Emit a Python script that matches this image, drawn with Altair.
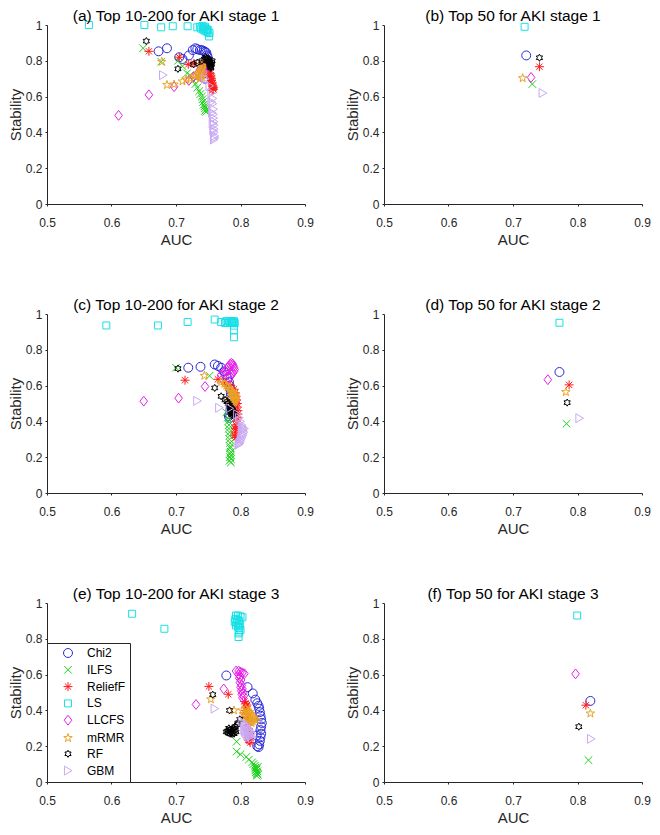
import altair as alt
import pandas as pd

METHODS = ["Chi2", "ILFS", "ReliefF", "LS", "LLCFS", "mRMR", "RF", "GBM"]
COLORS = ["#2a2ad8", "#1fd11f", "#ff1a1a", "#19e0e6", "#e81ee8", "#eaa224", "#000000", "#c9a8f2"]
X_TICKS = [0.5, 0.6, 0.7, 0.8, 0.9]
Y_TICKS = [0, 0.2, 0.4, 0.6, 0.8, 1.0]

# ---------- (a) Top 10-200 for AKI stage 1 ----------
a_chi2 = [(0.673, 0.853), (0.686, 0.87), (0.705, 0.82), (0.71, 0.81), (0.72, 0.83), (0.726, 0.86), (0.73, 0.87), (0.733, 0.865), (0.737, 0.86), (0.74, 0.86), (0.743, 0.855), (0.745, 0.85), (0.747, 0.845), (0.748, 0.83), (0.749, 0.82), (0.75, 0.80), (0.75, 0.78), (0.748, 0.76), (0.747, 0.73), (0.745, 0.70)]
a_ilfs = [(0.649, 0.87), (0.677, 0.795), (0.703, 0.80), (0.71, 0.77), (0.717, 0.73), (0.722, 0.72), (0.727, 0.69), (0.73, 0.67), (0.733, 0.65), (0.736, 0.63), (0.738, 0.615), (0.74, 0.60), (0.741, 0.585), (0.742, 0.57), (0.743, 0.555), (0.744, 0.545), (0.745, 0.535), (0.746, 0.525), (0.745, 0.52), (0.747, 0.515)]
a_relieff = [(0.658, 0.853), (0.705, 0.82), (0.719, 0.78), (0.728, 0.785), (0.745, 0.79), (0.75, 0.77), (0.752, 0.75), (0.753, 0.73), (0.754, 0.72), (0.754, 0.71), (0.755, 0.70), (0.755, 0.69), (0.756, 0.68), (0.756, 0.67), (0.757, 0.66), (0.757, 0.655), (0.758, 0.65), (0.757, 0.645), (0.758, 0.64), (0.756, 0.635)]
a_ls = [(0.565, 1.0), (0.651, 1.0), (0.677, 0.987), (0.695, 0.993), (0.718, 0.993), (0.733, 0.987), (0.737, 0.99), (0.739, 0.98), (0.741, 0.995), (0.742, 0.975), (0.743, 0.985), (0.744, 0.97), (0.745, 0.99), (0.746, 0.98), (0.747, 0.965), (0.748, 0.975), (0.749, 0.96), (0.75, 0.97), (0.752, 0.955), (0.751, 0.936)]
a_llcfs = [(0.611, 0.495), (0.658, 0.61), (0.697, 0.655), (0.72, 0.69), (0.727, 0.71), (0.732, 0.72), (0.735, 0.735), (0.737, 0.75), (0.739, 0.76), (0.74, 0.765), (0.741, 0.77), (0.742, 0.775), (0.743, 0.78), (0.744, 0.77), (0.745, 0.76), (0.745, 0.75), (0.744, 0.74), (0.742, 0.73), (0.74, 0.72), (0.738, 0.71)]
a_mrmr = [(0.678, 0.795), (0.686, 0.665), (0.697, 0.668), (0.71, 0.685), (0.716, 0.695), (0.722, 0.70), (0.729, 0.715), (0.733, 0.72), (0.736, 0.73), (0.738, 0.74), (0.739, 0.75), (0.74, 0.76), (0.741, 0.77), (0.742, 0.78), (0.743, 0.79), (0.742, 0.73), (0.741, 0.72), (0.74, 0.71), (0.738, 0.705), (0.737, 0.70)]
a_rf = [(0.654, 0.91), (0.703, 0.755), (0.727, 0.78), (0.733, 0.79), (0.74, 0.80), (0.744, 0.81), (0.746, 0.82), (0.748, 0.815), (0.749, 0.81), (0.75, 0.80), (0.751, 0.795), (0.752, 0.79), (0.752, 0.78), (0.753, 0.775), (0.753, 0.77), (0.754, 0.765), (0.754, 0.76), (0.755, 0.78), (0.755, 0.79), (0.756, 0.80)]
a_gbm = [(0.68, 0.72), (0.745, 0.70), (0.752, 0.66), (0.755, 0.62), (0.757, 0.59), (0.757, 0.56), (0.758, 0.53), (0.758, 0.50), (0.758, 0.48), (0.759, 0.46), (0.759, 0.44), (0.759, 0.42), (0.759, 0.40), (0.76, 0.38), (0.76, 0.37), (0.759, 0.36), (0.758, 0.41), (0.757, 0.45), (0.756, 0.51), (0.755, 0.57)]

# ---------- (b) Top 50 for AKI stage 1 ----------
b_auc = [0.7205, 0.730, 0.741, 0.718, 0.728, 0.715, 0.741, 0.746]
b_stab = [0.83, 0.67, 0.767, 0.99, 0.707, 0.703, 0.817, 0.62]

# ---------- (c) Top 10-200 for AKI stage 2 ----------
c_chi2 = [(0.719, 0.70), (0.738, 0.705), (0.76, 0.718), (0.765, 0.71), (0.77, 0.70), (0.775, 0.68), (0.778, 0.66), (0.78, 0.64), (0.782, 0.62), (0.783, 0.60), (0.784, 0.58), (0.785, 0.56), (0.785, 0.54), (0.786, 0.52), (0.786, 0.50), (0.785, 0.48), (0.784, 0.46), (0.783, 0.44), (0.783, 0.42), (0.782, 0.43)]
c_ilfs = [(0.70, 0.70), (0.752, 0.655), (0.778, 0.45), (0.78, 0.42), (0.781, 0.40), (0.782, 0.38), (0.782, 0.36), (0.783, 0.34), (0.783, 0.32), (0.783, 0.30), (0.784, 0.28), (0.784, 0.26), (0.784, 0.25), (0.785, 0.23), (0.785, 0.21), (0.784, 0.20), (0.785, 0.19), (0.783, 0.18), (0.785, 0.17), (0.784, 0.22)]
c_relieff = [(0.714, 0.63), (0.765, 0.635), (0.775, 0.62), (0.785, 0.60), (0.79, 0.58), (0.792, 0.56), (0.793, 0.54), (0.794, 0.52), (0.795, 0.50), (0.795, 0.48), (0.796, 0.46), (0.796, 0.44), (0.795, 0.42), (0.794, 0.40), (0.793, 0.38), (0.792, 0.36), (0.792, 0.34), (0.791, 0.32), (0.793, 0.31), (0.794, 0.37)]
c_ls = [(0.592, 0.936), (0.672, 0.936), (0.718, 0.955), (0.76, 0.969), (0.77, 0.955), (0.776, 0.95), (0.778, 0.96), (0.78, 0.95), (0.782, 0.958), (0.784, 0.95), (0.785, 0.96), (0.786, 0.952), (0.787, 0.958), (0.788, 0.95), (0.789, 0.955), (0.79, 0.96), (0.791, 0.95), (0.79, 0.935), (0.79, 0.909), (0.79, 0.87)]
c_llcfs = [(0.65, 0.513), (0.704, 0.53), (0.745, 0.595), (0.77, 0.66), (0.773, 0.67), (0.776, 0.68), (0.778, 0.69), (0.78, 0.70), (0.782, 0.71), (0.784, 0.72), (0.786, 0.725), (0.788, 0.72), (0.789, 0.71), (0.79, 0.70), (0.791, 0.69), (0.79, 0.68), (0.788, 0.67), (0.786, 0.66), (0.784, 0.65), (0.782, 0.64)]
c_mrmr = [(0.744, 0.655), (0.77, 0.62), (0.775, 0.61), (0.778, 0.60), (0.78, 0.59), (0.783, 0.58), (0.785, 0.57), (0.787, 0.565), (0.789, 0.56), (0.79, 0.55), (0.791, 0.545), (0.792, 0.54), (0.793, 0.53), (0.792, 0.52), (0.791, 0.515), (0.79, 0.51), (0.788, 0.505), (0.786, 0.50), (0.784, 0.52), (0.782, 0.53)]
c_rf = [(0.703, 0.695), (0.76, 0.587), (0.77, 0.54), (0.776, 0.52), (0.779, 0.51), (0.781, 0.50), (0.783, 0.49), (0.784, 0.48), (0.785, 0.475), (0.786, 0.47), (0.787, 0.465), (0.788, 0.46), (0.788, 0.455), (0.789, 0.45), (0.789, 0.445), (0.79, 0.44), (0.787, 0.435), (0.786, 0.44), (0.785, 0.45), (0.784, 0.46)]
c_gbm = [(0.733, 0.515), (0.767, 0.476), (0.783, 0.473), (0.795, 0.44), (0.798, 0.42), (0.80, 0.40), (0.802, 0.38), (0.803, 0.36), (0.804, 0.35), (0.805, 0.34), (0.804, 0.33), (0.803, 0.32), (0.802, 0.31), (0.801, 0.30), (0.80, 0.29), (0.799, 0.28), (0.798, 0.275), (0.797, 0.27), (0.803, 0.37), (0.806, 0.36)]

# ---------- (d) Top 50 for AKI stage 2 ----------
d_auc = [0.772, 0.783, 0.787, 0.772, 0.754, 0.782, 0.784, 0.803]
d_stab = [0.676, 0.387, 0.604, 0.951, 0.633, 0.564, 0.505, 0.418]

# ---------- (e) Top 10-200 for AKI stage 3 ----------
e_chi2 = [(0.778, 0.595), (0.811, 0.53), (0.819, 0.495), (0.823, 0.46), (0.826, 0.44), (0.828, 0.425), (0.829, 0.41), (0.83, 0.39), (0.831, 0.37), (0.832, 0.35), (0.833, 0.33), (0.832, 0.31), (0.831, 0.29), (0.832, 0.27), (0.831, 0.25), (0.83, 0.23), (0.829, 0.21), (0.828, 0.195), (0.826, 0.20), (0.825, 0.26)]
e_ilfs = [(0.782, 0.29), (0.794, 0.225), (0.794, 0.17), (0.80, 0.155), (0.809, 0.14), (0.813, 0.125), (0.818, 0.11), (0.82, 0.10), (0.822, 0.09), (0.823, 0.08), (0.824, 0.075), (0.825, 0.07), (0.826, 0.06), (0.824, 0.055), (0.825, 0.05), (0.826, 0.045), (0.827, 0.04), (0.825, 0.035), (0.823, 0.065), (0.827, 0.085)]
e_relieff = [(0.751, 0.534), (0.781, 0.49), (0.806, 0.45), (0.808, 0.44), (0.81, 0.43), (0.809, 0.42), (0.808, 0.40), (0.81, 0.38), (0.811, 0.36), (0.812, 0.34), (0.811, 0.32), (0.812, 0.30), (0.813, 0.28), (0.814, 0.27), (0.813, 0.26), (0.812, 0.25), (0.813, 0.24), (0.814, 0.23), (0.815, 0.22), (0.812, 0.235)]
e_ls = [(0.632, 0.94), (0.682, 0.856), (0.793, 0.93), (0.796, 0.93), (0.80, 0.925), (0.803, 0.92), (0.792, 0.91), (0.795, 0.905), (0.798, 0.90), (0.791, 0.895), (0.794, 0.89), (0.797, 0.885), (0.799, 0.88), (0.793, 0.875), (0.796, 0.87), (0.798, 0.86), (0.80, 0.85), (0.798, 0.84), (0.797, 0.83), (0.797, 0.81)]
e_llcfs = [(0.731, 0.433), (0.774, 0.52), (0.793, 0.62), (0.797, 0.62), (0.80, 0.615), (0.803, 0.61), (0.806, 0.605), (0.797, 0.60), (0.80, 0.59), (0.798, 0.58), (0.801, 0.57), (0.799, 0.555), (0.802, 0.54), (0.80, 0.53), (0.803, 0.52), (0.801, 0.51), (0.804, 0.50), (0.802, 0.49), (0.805, 0.48), (0.803, 0.47)]
e_mrmr = [(0.754, 0.462), (0.79, 0.40), (0.803, 0.40), (0.808, 0.41), (0.811, 0.40), (0.814, 0.39), (0.816, 0.38), (0.818, 0.37), (0.82, 0.36), (0.822, 0.35), (0.824, 0.345), (0.819, 0.34), (0.817, 0.33), (0.815, 0.335), (0.813, 0.345), (0.811, 0.35), (0.809, 0.36), (0.807, 0.37), (0.805, 0.38), (0.812, 0.39)]
e_rf = [(0.757, 0.488), (0.783, 0.40), (0.796, 0.33), (0.799, 0.35), (0.795, 0.32), (0.792, 0.31), (0.789, 0.30), (0.786, 0.295), (0.783, 0.29), (0.78, 0.285), (0.778, 0.28), (0.781, 0.275), (0.784, 0.27), (0.787, 0.268), (0.79, 0.27), (0.793, 0.28), (0.791, 0.29), (0.788, 0.283), (0.785, 0.28), (0.782, 0.30)]
e_gbm = [(0.76, 0.41), (0.802, 0.34), (0.805, 0.33), (0.808, 0.32), (0.81, 0.31), (0.812, 0.30), (0.814, 0.29), (0.816, 0.28), (0.817, 0.27), (0.815, 0.26), (0.813, 0.25), (0.811, 0.26), (0.809, 0.27), (0.807, 0.28), (0.806, 0.29), (0.81, 0.295), (0.812, 0.28), (0.814, 0.265), (0.816, 0.255), (0.818, 0.245)]

# ---------- (f) Top 50 for AKI stage 3 ----------
f_auc = [0.820, 0.817, 0.813, 0.7995, 0.797, 0.820, 0.802, 0.821]
f_stab = [0.453, 0.122, 0.429, 0.93, 0.604, 0.383, 0.309, 0.241]

# marker glyphs (MATLAB style: o x * s d p h >)
SHAPES = [
    "circle",
    "M-0.85,-0.85L0.85,0.85M-0.85,0.85L0.85,-0.85",
    "M0,-1L0,1M-1,0L1,0M-0.7,-0.7L0.7,0.7M-0.7,0.7L0.7,-0.7",
    "M-0.78,-0.78L0.78,-0.78L0.78,0.78L-0.78,0.78Z",
    "M0,-1.1L0.85,0L0,1.1L-0.85,0Z",
    "M0,-1L0.225,-0.309L0.951,-0.309L0.363,0.118L0.588,0.809L0,0.382L-0.588,0.809L-0.363,0.118L-0.951,-0.309L-0.225,-0.309Z",
    "M0,-0.8L0.231,-0.4L0.693,-0.4L0.462,0L0.693,0.4L0.231,0.4L0,0.8L-0.231,0.4L-0.693,0.4L-0.462,0L-0.693,-0.4L-0.231,-0.4Z",
    "M-0.8,-1L0.9,0L-0.8,1Z",
]

FONT = "Liberation Sans"


def multi_df(series_lists):
    rows = []
    for m, pts in zip(METHODS, series_lists):
        for auc, st in pts:
            rows.append({"Method": m, "AUC": auc, "Stability": st})
    return pd.DataFrame(rows)


def single_df(aucs, stabs):
    return pd.DataFrame({"Method": METHODS, "AUC": aucs, "Stability": stabs})


def panel(df, title, show_legend=False):
    if show_legend:
        leg = alt.Legend(
            title=None, orient="bottom-left", offset=0,
            strokeColor="#262626", fillColor="white", padding=4,
            labelFont=FONT, labelFontSize=12, labelColor="#000000",
            symbolSize=80, symbolStrokeWidth=1, symbolOffset=11,
            labelOffset=13, rowPadding=3.8,
        )
    else:
        leg = None
    return alt.Chart(df).mark_point(filled=False, strokeWidth=1, size=80, opacity=1).encode(
        x=alt.X("AUC:Q", scale=alt.Scale(domain=[0.5, 0.9], nice=False, zero=False),
                axis=alt.Axis(values=X_TICKS, format="~g", title="AUC", tickSize=2,
                              labelPadding=11, titlePadding=4, labelFlush=False)),
        y=alt.Y("Stability:Q", scale=alt.Scale(domain=[0, 1], nice=False),
                axis=alt.Axis(values=Y_TICKS, format="~g", title="Stability", tickSize=2,
                              labelPadding=3, titlePadding=2, labelFlush=False)),
        color=alt.Color("Method:N", scale=alt.Scale(domain=METHODS, range=COLORS), legend=leg),
        shape=alt.Shape("Method:N", scale=alt.Scale(domain=METHODS, range=SHAPES), legend=leg),
    ).properties(
        width=258, height=179,
        title=alt.TitleParams(title, frame="group", anchor="middle"),
    )


pa = panel(multi_df([a_chi2, a_ilfs, a_relieff, a_ls, a_llcfs, a_mrmr, a_rf, a_gbm]), "(a) Top 10-200 for AKI stage 1")
pb = panel(single_df(b_auc, b_stab), "(b) Top 50 for AKI stage 1")
pc = panel(multi_df([c_chi2, c_ilfs, c_relieff, c_ls, c_llcfs, c_mrmr, c_rf, c_gbm]), "(c) Top 10-200 for AKI stage 2")
pd_ = panel(single_df(d_auc, d_stab), "(d) Top 50 for AKI stage 2")
pe = panel(multi_df([e_chi2, e_ilfs, e_relieff, e_ls, e_llcfs, e_mrmr, e_rf, e_gbm]), "(e) Top 10-200 for AKI stage 3", show_legend=True)
pf = panel(single_df(f_auc, f_stab), "(f) Top 50 for AKI stage 3")

chart = alt.concat(
    pa, pb, pc, pd_, pe, pf, columns=2, spacing={"row": 110, "column": 79}, bounds="flush"
).resolve_scale(
    color="independent", shape="independent"
).resolve_legend(
    color="independent", shape="independent"
).properties(
    padding=0
).configure_view(
    stroke=None
).configure_axis(
    grid=False, domainColor="#262626", tickColor="#262626", labelColor="#262626",
    titleColor="#262626", labelFont=FONT, titleFont=FONT, labelFontSize=12,
    titleFontSize=15, titleFontWeight="normal", domainWidth=1,
).configure_title(
    font=FONT, fontSize=15.5, fontWeight="normal", color="#000000", offset=-5,
)

chart.save("out.html", embed_options={"renderer": "svg", "actions": False})
